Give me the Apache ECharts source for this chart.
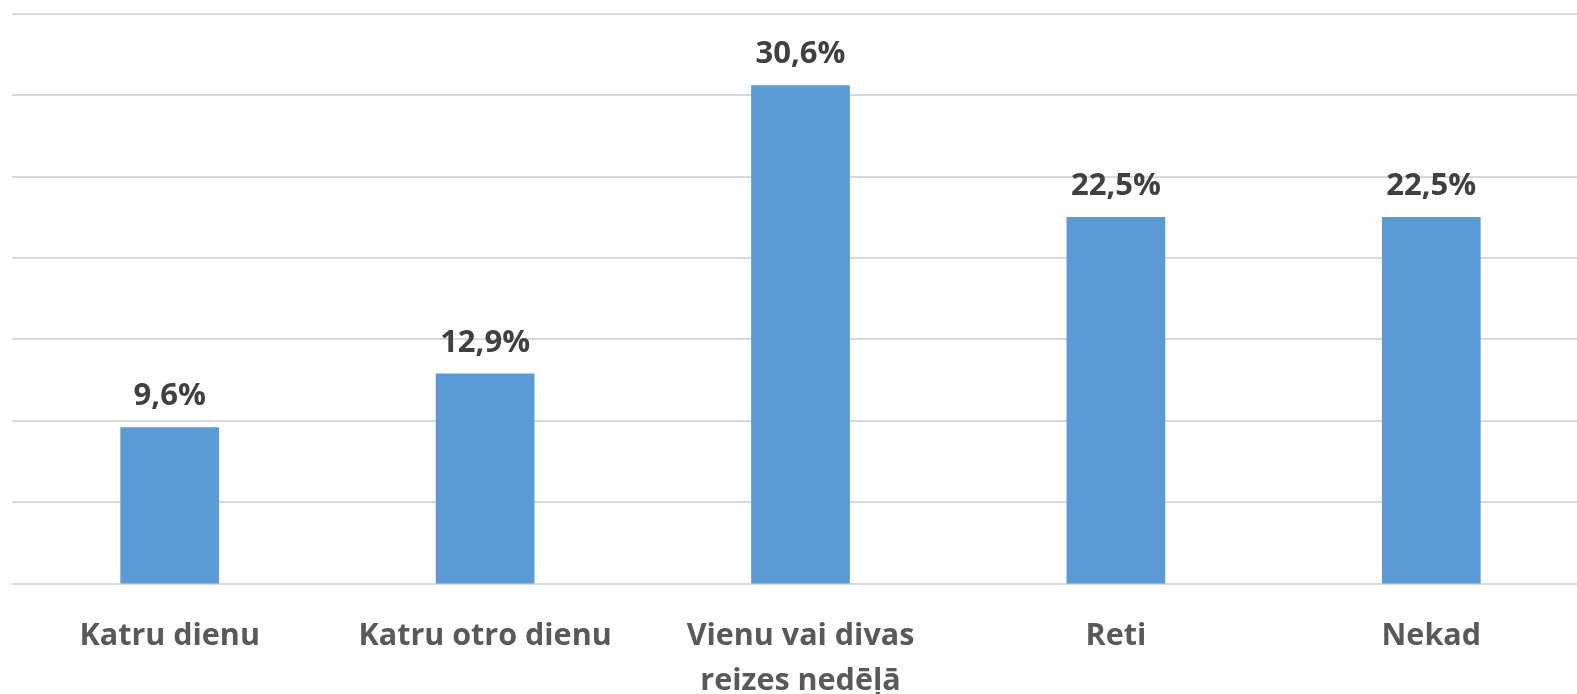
<!DOCTYPE html>
<html><head><meta charset="utf-8">
<script src="https://cdn.jsdelivr.net/npm/echarts@6/dist/echarts.min.js"></script>
<style>html,body{margin:0;padding:0;background:#fff}#c{width:1577px;height:694px}</style>
</head><body><div id="c"></div>
<script>
const categories = ['Katru dienu', 'Katru otro dienu', 'Vienu vai divas\nreizes nedēļā', 'Reti', 'Nekad'];
const values = [9.6, 12.9, 30.6, 22.5, 22.5];
const chart = echarts.init(document.getElementById('c'));
chart.setOption({
  animation: false,
  grid: { left: 12, right: -12, top: 13.5, bottom: 110.5, containLabel: false, outerBoundsMode: 'none' },
  xAxis: {
    type: 'category', data: categories,
    axisLine: { show: true, lineStyle: { color: '#d9d9d9', width: 2 } },
    axisTick: { show: false },
    axisLabel: { color: '#595959', fontFamily: 'Open Sans', fontWeight: 'bold', fontSize: 30.5, margin: 30, lineHeight: 45, interval: 0 }
  },
  yAxis: {
    type: 'value', min: 0, max: 35, interval: 5,
    axisLabel: { show: false }, axisLine: { show: false }, axisTick: { show: false },
    splitLine: { lineStyle: { color: '#d9d9d9', width: 2 } }
  },
  series: [{
    type: 'bar', data: values, barWidth: '31.3%',
    itemStyle: { color: '#5B9BD5' },
    label: {
      show: true, position: 'top', distance: 15,
      color: '#404040', fontFamily: 'Open Sans', fontWeight: 'bold', fontSize: 31,
      formatter: p => p.value.toFixed(1).replace('.', ',') + '%'
    }
  }]
});
</script></body></html>
